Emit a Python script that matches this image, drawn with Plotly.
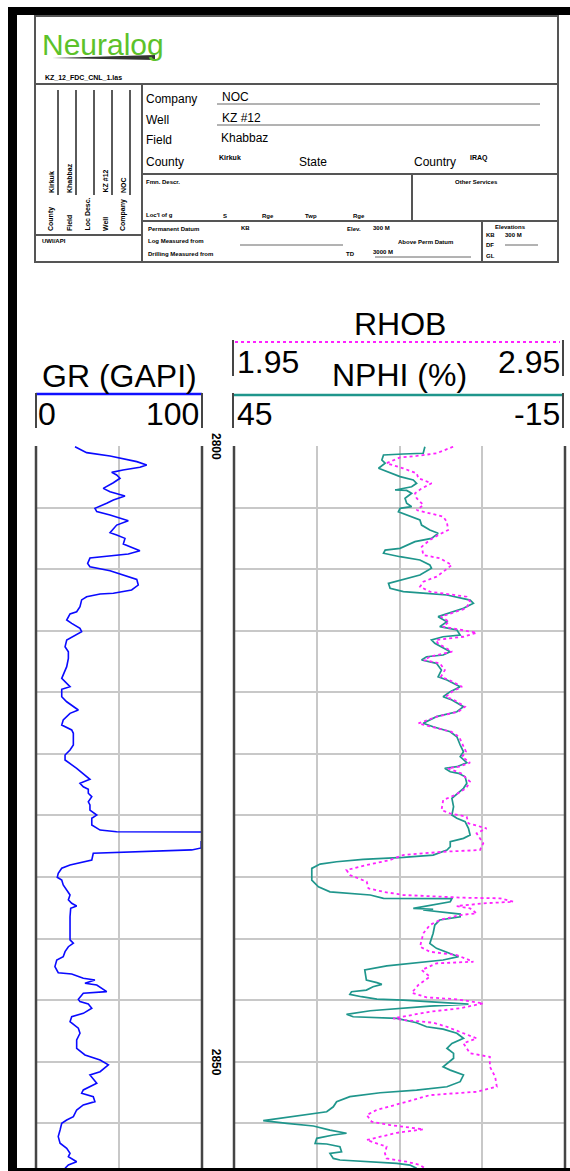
import plotly.graph_objects as go

W, H = 570, 1171

# ---------------- data ----------------
GR_DEPTH = [2800.06, 2800.54, 2800.81, 2800.97, 2801.27, 2801.54, 2801.73, 2801.95, 2802.14, 2802.35,
            2802.62, 2802.98, 2803.44, 2803.71, 2804.06, 2804.38, 2804.65, 2805.06, 2805.33, 2805.60,
            2806.07, 2806.42, 2807.04, 2807.23, 2807.50, 2807.96, 2808.18, 2808.50, 2808.77, 2808.93,
            2809.10, 2809.53, 2809.80, 2810.13, 2810.48, 2810.83, 2811.29, 2811.69, 2811.96, 2812.02,
            2812.24, 2812.50, 2813.05, 2813.46, 2813.64, 2814.13, 2814.40, 2814.81, 2815.08, 2815.49,
            2815.75, 2816.30, 2816.71, 2817.24, 2817.92, 2818.87, 2819.14, 2819.55, 2819.76, 2820.36,
            2820.77, 2821.44, 2821.71, 2822.25, 2822.66, 2823.06, 2823.33, 2824.28, 2824.69, 2825.09,
            2825.50, 2826.17, 2827.07, 2827.39, 2827.67, 2827.88, 2828.20, 2828.48, 2828.89, 2829.15,
            2829.56, 2829.97, 2830.23, 2830.78, 2831.19, 2831.32, 2831.37, 2832.05, 2832.13, 2832.64,
            2832.80, 2832.89, 2832.99, 2833.07, 2833.62, 2833.84, 2834.02, 2834.29, 2834.70, 2835.02,
            2835.24, 2835.65, 2836.05, 2836.46, 2836.86, 2837.13, 2837.35, 2837.54, 2838.22, 2840.11,
            2840.38, 2840.66, 2841.06, 2841.47, 2841.74, 2842.28, 2842.77, 2842.87, 2843.22, 2843.36,
            2843.63, 2843.77, 2844.31, 2844.44, 2844.93, 2845.12, 2845.31, 2845.66, 2846.07, 2846.34,
            2846.75, 2847.28, 2847.69, 2848.23, 2848.91, 2849.45, 2849.86, 2850.26, 2850.81, 2851.07,
            2851.75, 2852.29, 2852.56, 2852.84, 2853.24, 2853.51, 2853.92, 2854.46, 2854.73, 2855.00,
            2855.54, 2856.08, 2856.62, 2857.03, 2857.43, 2857.71, 2858.12, 2858.38, 2858.65]
GR_VALUE = [23.5, 30.5, 44.6, 50.6, 60.7, 66.7, 62.6, 52.4, 45.6, 48.6,
            50.6, 46.6, 40.5, 44.6, 53.6, 46.6, 42.6, 35.5, 36.6, 44.6,
            55.6, 48.6, 44.6, 48.6, 53.6, 52.6, 56.6, 62.6, 55.6, 42.6,
            32.5, 31.1, 32.5, 44.6, 52.6, 60.7, 61.6, 57.6, 46.6, 38.6,
            30.5, 27.5, 26.5, 24.5, 20.5, 18.5, 21.5, 26.5, 27.5, 22.5,
            18.5, 17.5, 19.5, 19.5, 18.5, 15.5, 17.5, 20.5, 15.5, 15.5,
            18.5, 25.5, 20.5, 16.4, 15.5, 21.5, 22.5, 22.5, 20.5, 17.5,
            17.5, 24.5, 32.5, 26.5, 28.5, 31.5, 31.5, 33.6, 31.5, 32.5,
            32.5, 36.6, 33.6, 33.6, 38.6, 48.6, 140.0, 140.0, 99.5, 99.5,
            93.8, 75.7, 46.6, 34.5, 33.6, 26.5, 20.5, 15.5, 13.4, 12.8,
            15.5, 16.4, 18.5, 20.5, 19.5, 21.5, 24.5, 20.9, 20.5, 20.5,
            22.5, 19.5, 17.5, 16.4, 12.5, 11.4, 13.4, 21.5, 28.5, 35.5,
            29.5, 36.6, 42.6, 28.5, 25.5, 26.5, 31.5, 33.6, 28.5, 21.5,
            20.5, 25.5, 26.5, 24.5, 24.5, 29.5, 38.6, 43.6, 38.6, 32.5,
            36.6, 28.5, 27.5, 34.5, 35.5, 28.5, 24.5, 22.5, 18.5, 15.5,
            14.5, 13.4, 14.5, 18.5, 20.5, 19.5, 24.5, 19.5, 17.5]

NPHI_DEPTH = [2800.06, 2800.59, 2800.65, 2800.73, 2801.14, 2801.40, 2801.81, 2802.09, 2802.49, 2802.76,
              2803.03, 2803.31, 2803.57, 2803.61, 2803.84, 2804.25, 2804.65, 2804.93, 2805.06, 2805.34,
              2805.60, 2806.01, 2806.42, 2806.82, 2807.09, 2807.50, 2807.77, 2808.31, 2808.45, 2808.71,
              2808.99, 2809.26, 2809.66, 2809.93, 2810.48, 2810.88, 2811.15, 2811.56, 2811.83, 2811.96,
              2812.10, 2812.51, 2812.77, 2813.18, 2813.59, 2813.86, 2814.27, 2814.67, 2814.94, 2815.35,
              2815.49, 2815.75, 2816.02, 2816.70, 2816.97, 2817.11, 2817.38, 2817.65, 2818.19, 2818.74,
              2819.00, 2819.55, 2819.95, 2820.36, 2820.63, 2821.17, 2821.58, 2821.98, 2822.52, 2822.80,
              2823.20, 2823.61, 2824.28, 2824.83, 2825.23, 2825.72, 2826.04, 2826.17, 2826.45, 2826.58,
              2826.86, 2827.39, 2827.80, 2828.61, 2829.29, 2829.97, 2830.23, 2830.51, 2831.05, 2831.59,
              2831.86, 2832.13, 2832.54, 2832.81, 2833.22, 2833.40, 2833.56, 2833.76, 2833.95, 2834.30,
              2835.25, 2835.79, 2836.20, 2836.33, 2836.46, 2836.73, 2836.75, 2837.01, 2837.28, 2837.54,
              2837.62, 2837.68, 2838.01, 2838.23, 2838.49, 2838.90, 2839.57, 2840.39, 2840.79, 2841.20,
              2841.47, 2841.74, 2842.01, 2842.21, 2842.55, 2843.37, 2843.58, 2843.72, 2843.91, 2844.18,
              2844.32, 2844.53, 2844.72, 2844.91, 2844.99, 2845.13, 2845.32, 2845.48, 2845.66, 2845.86,
              2846.15, 2846.35, 2846.48, 2846.83, 2847.16, 2847.35, 2847.69, 2848.10, 2848.51, 2848.91,
              2849.32, 2849.72, 2850.41, 2850.68, 2851.08, 2851.62, 2852.03, 2852.30, 2852.52, 2852.71,
              2852.84, 2853.25, 2853.66, 2854.06, 2854.25, 2854.47, 2854.79, 2855.00, 2855.22, 2855.55,
              2855.81, 2855.95, 2856.22, 2856.63, 2856.68, 2856.90, 2857.31, 2857.44, 2857.85, 2857.98,
              2858.12, 2858.25, 2858.39, 2858.66]
NPHI_VALUE = [10.4, 10.7, 14.3, 17.9, 18.2, 17.6, 18.8, 17.3, 14.9, 12.5,
              11.9, 12.8, 15.8, 13.7, 12.8, 14.0, 13.7, 12.8, 14.9, 15.2,
              13.7, 11.3, 11.0, 9.5, 8.0, 9.2, 12.2, 14.9, 17.6, 17.9,
              14.9, 11.3, 9.5, 9.2, 11.3, 14.9, 17.0, 16.7, 14.3, 10.1,
              6.4, 2.2, 1.6, 3.4, 6.2, 8.0, 6.4, 7.7, 4.6, 4.0,
              7.1, 9.2, 8.6, 5.8, 7.1, 10.1, 11.0, 8.3, 7.4, 8.0,
              6.4, 4.0, 5.8, 7.1, 5.5, 3.4, 4.6, 8.3, 10.7, 8.9,
              5.8, 4.6, 4.0, 3.4, 4.0, 2.8, 4.6, 6.8, 5.8, 4.3,
              3.1, 2.8, 3.4, 5.5, 5.2, 5.5, 4.6, 3.1, 2.5, 2.2,
              3.4, 5.8, 5.8, 6.4, 8.9, 14.3, 21.6, 26.4, 29.4, 30.9,
              30.9, 29.7, 27.6, 24.6, 20.3, 17.9, 5.5, 5.8, 9.5, 12.5,
              8.9, 10.7, 4.0, 4.0, 7.7, 8.6, 8.9, 9.5, 8.3, 5.8,
              4.3, 7.1, 12.8, 17.3, 21.3, 21.0, 19.1, 18.2, 19.8, 21.0,
              23.7, 24.0, 21.9, 19.1, 14.3, 9.5, 2.5, 9.5, 14.9, 20.3,
              24.6, 23.4, 15.5, 11.9, 10.1, 7.1, 4.6, 3.4, 5.5, 6.4,
              5.2, 5.2, 7.1, 5.8, 3.4, 4.0, 6.4, 11.9, 18.5, 21.6,
              24.0, 26.4, 27.0, 28.2, 31.2, 35.4, 39.7, 35.4, 30.6, 27.6,
              24.6, 27.0, 30.0, 30.3, 28.2, 25.8, 25.5, 27.6, 27.0, 25.8,
              20.3, 15.5, 13.1, 11.9]

RHOB_DEPTH = [2800.06, 2800.59, 2800.81, 2800.92, 2801.40, 2801.81, 2802.22, 2802.62, 2803.03, 2803.44,
              2803.84, 2804.25, 2804.79, 2805.20, 2805.47, 2805.74, 2806.15, 2806.82, 2807.23, 2807.63,
              2808.18, 2808.85, 2809.12, 2809.66, 2810.21, 2810.61, 2811.02, 2811.43, 2811.83, 2812.02,
              2812.24, 2812.64, 2813.18, 2813.59, 2813.86, 2814.27, 2814.67, 2815.16, 2815.49, 2815.75,
              2816.02, 2816.70, 2817.11, 2817.38, 2817.65, 2818.19, 2818.74, 2819.00, 2819.55, 2819.95,
              2820.36, 2820.63, 2821.17, 2821.58, 2821.98, 2822.52, 2822.80, 2823.20, 2823.61, 2824.28,
              2824.83, 2825.23, 2825.72, 2826.04, 2826.17, 2826.58, 2827.26, 2827.80, 2828.34, 2828.75,
              2829.56, 2829.83, 2830.10, 2830.64, 2831.05, 2831.45, 2832.26, 2832.81, 2832.95, 2833.22,
              2833.62, 2834.03, 2834.43, 2834.84, 2835.38, 2835.92, 2836.20, 2836.46, 2836.68, 2836.73,
              2837.01, 2837.14, 2837.36, 2837.54, 2837.95, 2838.09, 2838.49, 2838.90, 2839.57, 2840.66,
              2841.07, 2841.34, 2841.88, 2842.01, 2842.55, 2843.10, 2843.77, 2844.40, 2844.77, 2844.93,
              2845.26, 2845.66, 2845.94, 2846.48, 2846.61, 2846.83, 2847.16, 2847.69, 2848.10, 2848.51,
              2849.32, 2849.60, 2850.41, 2851.22, 2852.03, 2852.44, 2852.71, 2853.25, 2853.92, 2854.33,
              2854.87, 2855.14, 2855.49, 2855.77, 2856.36, 2856.63, 2856.90, 2857.44, 2857.85, 2858.12,
              2858.39, 2858.66]
RHOB_VALUE = [2.612, 2.562, 2.502, 2.452, 2.411, 2.461, 2.502, 2.507, 2.547, 2.517,
              2.497, 2.502, 2.522, 2.502, 2.542, 2.582, 2.593, 2.597, 2.567, 2.542,
              2.517, 2.522, 2.572, 2.608, 2.582, 2.562, 2.522, 2.512, 2.542, 2.593,
              2.653, 2.663, 2.651, 2.606, 2.575, 2.600, 2.581, 2.683, 2.643, 2.560,
              2.566, 2.609, 2.542, 2.524, 2.572, 2.587, 2.575, 2.600, 2.639, 2.609,
              2.590, 2.615, 2.648, 2.627, 2.563, 2.507, 2.551, 2.606, 2.630, 2.642,
              2.651, 2.639, 2.663, 2.630, 2.596, 2.636, 2.663, 2.651, 2.618, 2.582,
              2.577, 2.602, 2.653, 2.658, 2.713, 2.683, 2.703, 2.693, 2.582, 2.461,
              2.421, 2.351, 2.290, 2.300, 2.351, 2.356, 2.401, 2.461, 2.643, 2.754,
              2.794, 2.703, 2.623, 2.663, 2.683, 2.633, 2.572, 2.542, 2.522, 2.512,
              2.542, 2.623, 2.673, 2.562, 2.517, 2.542, 2.507, 2.487, 2.532, 2.623,
              2.703, 2.633, 2.542, 2.431, 2.461, 2.552, 2.593, 2.643, 2.683, 2.643,
              2.663, 2.723, 2.723, 2.739, 2.744, 2.683, 2.542, 2.472, 2.381, 2.351,
              2.366, 2.421, 2.522, 2.442, 2.351, 2.381, 2.411, 2.406, 2.411, 2.472,
              2.512, 2.527]

GR_RANGE = [0, 100]
NPHI_RANGE = [45, -15]
RHOB_RANGE = [1.95, 2.95]
DEPTH_TOP, DEPTH_BOTTOM = 2800, 2858.63
DEPTH_LABELS = [2800, 2850]
GR_GRID = [50]
NPHI_GRID = [30, 15, 0]

# ---------------- helpers (layout positions in pixels) ----------------
def X(p):
    return p / W


def Y(p):
    return 1 - p / H


FONT = "Liberation Sans, Arial, sans-serif"
TEAL = "#1f968c"
MAGENTA = "#ff22ff"
BORDER = "#454545"
GRID = "#c8c8c8"

fig = go.Figure()
fig.add_trace(go.Scatter(x=GR_VALUE, y=GR_DEPTH, xaxis="x", yaxis="y", mode="lines",
                         line=dict(color="#0a0aff", width=1.6), hoverinfo="skip"))
fig.add_trace(go.Scatter(x=NPHI_VALUE, y=NPHI_DEPTH, xaxis="x2", yaxis="y2", mode="lines",
                         line=dict(color=TEAL, width=1.7), hoverinfo="skip"))
fig.add_trace(go.Scatter(x=RHOB_VALUE, y=RHOB_DEPTH, xaxis="x3", yaxis="y2", mode="lines",
                         line=dict(color=MAGENTA, width=1.8, dash="dot"), hoverinfo="skip"))

ydom = [Y(1168), Y(446)]
common_y = dict(domain=ydom, range=[DEPTH_BOTTOM, DEPTH_TOP], tick0=2800, dtick=5,
                showticklabels=False, ticks="", showgrid=True, gridcolor=GRID, gridwidth=2,
                zeroline=False, showline=False)
common_x = dict(showticklabels=False, ticks="", showgrid=True, gridcolor=GRID, gridwidth=2,
                zeroline=False, showline=False, tickmode="array")

shapes = []


def line(x0, y0, x1, y1, color=BORDER, width=2, dash="solid", layer="above"):
    shapes.append(dict(type="line", xref="paper", yref="paper", x0=X(x0), y0=Y(y0),
                       x1=X(x1), y1=Y(y1), line=dict(color=color, width=width, dash=dash),
                       layer=layer))


def rect(x0, y0, x1, y1, fill, layer="above"):
    shapes.append(dict(type="rect", xref="paper", yref="paper", x0=X(x0), y0=Y(y0),
                       x1=X(x1), y1=Y(y1), fillcolor=fill, line=dict(width=0), layer=layer))


annotations = []


def txt(text, x, y, size, xanchor="left", yanchor="middle", bold=False, angle=0,
        color="black", family=FONT):
    annotations.append(dict(text=text, x=X(x), y=Y(y), xref="paper", yref="paper",
                            xanchor=xanchor, yanchor=yanchor, showarrow=False,
                            textangle=angle, borderpad=0,
                            font=dict(family=family, size=size, color=color,
                                      weight="bold" if bold else "normal")))


# black frame bars
rect(8, 7, 570, 15, "black")
rect(8, 7, 17, 1171, "black")
rect(8, 1168, 570, 1171, "black")

# header box
HB = "#555555"
shapes.append(dict(type="rect", xref="paper", yref="paper", x0=X(35), y0=Y(16), x1=X(558),
                   y1=Y(262), line=dict(color=HB, width=2), fillcolor="rgba(0,0,0,0)"))
line(35, 84, 558, 84, HB, 2)
line(142, 84, 142, 262, HB, 2)
line(35, 235, 142, 235, HB, 2)
line(142, 174, 558, 174, HB, 2)
line(142, 221, 558, 221, HB, 2)
line(412, 174, 412, 221, HB, 2)
line(482, 221, 482, 262, HB, 2)
for bx in [58, 76, 94, 112, 130]:
    line(bx, 90, bx, 195, "#5a5a5a", 2)
line(217, 104, 540, 104, "#666", 1)
line(217, 125, 540, 125, "#666", 1)
line(240, 245, 343, 245, "#666", 1)
line(375, 257, 471, 257, "#666", 1)
line(505, 245, 538, 245, "#666", 1)

# logo
txt("Neuralog", 41, 44, 30, color="#5cc22a")
shapes.append(dict(type="path", xref="paper", yref="paper",
                   path=f"M {X(52)} {Y(58)} L {X(155)} {Y(55)} L {X(155)} {Y(60)} Z",
                   fillcolor="#333333", line=dict(width=0)))
txt("KZ_12_FDC_CNL_1.las", 44, 78, 7, bold=True)

# rotated left panel
for bx, val, lab in [(58, "Kirkuk", "County"), (76, "Khabbaz", "Field"), (94, "", "Loc Desc."),
                     (112, "KZ #12", "Well"), (130, "NOC", "Company")]:
    if val:
        txt(val, bx - 7, 194, 7, xanchor="center", yanchor="bottom", bold=True, angle=-90)
    txt(lab, bx - 7, 232, 7, xanchor="center", yanchor="bottom", bold=True, angle=-90)
txt("UWI/API", 41, 241, 6, bold=True)

# field labels
txt("Company", 145, 99, 12)
txt("NOC", 221, 97, 12)
txt("Well", 145, 120, 12)
txt("KZ #12", 221, 118, 12)
txt("Field", 145, 140, 12)
txt("Khabbaz", 220, 138, 12)
txt("County", 145, 162, 12)
txt("Kirkuk", 218, 157, 7, bold=True)
txt("State", 298, 162, 12)
txt("Country", 413, 162, 12)
txt("IRAQ", 469, 158, 7, bold=True)
txt("Fmn. Descr.", 145, 182, 6, bold=True)
txt("Other Services", 454, 182, 6, bold=True)
txt("Loc'l of g", 145, 215, 6, bold=True)
txt("S", 222, 216, 6, bold=True)
txt("Rge", 261, 216, 6, bold=True)
txt("Twp", 304, 216, 6, bold=True)
txt("Rge", 352, 216, 6, bold=True)
txt("Permanent Datum", 147, 229, 6, bold=True)
txt("KB", 240, 228, 6, bold=True)
txt("Log Measured from", 147, 241, 6, bold=True)
txt("Drilling Measured from", 147, 254, 6, bold=True)
txt("Elev.", 346, 229, 6, bold=True)
txt("300 M", 372, 228, 6, bold=True)
txt("Above Perm Datum", 397, 242, 6, bold=True)
txt("TD", 345, 254, 6, bold=True)
txt("3000 M", 372, 252, 6, bold=True)
txt("Elevations", 494, 227, 6, bold=True)
txt("KB", 485, 235, 6, bold=True)
txt("300 M", 504, 235, 6, bold=True)
txt("DF", 485, 245, 6, bold=True)
txt("GL", 485, 256, 6, bold=True)

# track headers
HS = 32
txt("RHOB", 399.5, 324, HS, xanchor="center")
line(235, 342, 560, 342, MAGENTA, 2, dash="dot")
line(233, 340, 233, 376, BORDER, 2)
line(563, 340, 563, 376, BORDER, 2)
txt("1.95", 236, 362, HS)
txt("2.95", 561, 362, HS, xanchor="right")
txt("NPHI (%)", 399, 375, HS, xanchor="center")
txt("GR (GAPI)", 119, 376, HS, xanchor="center")

line(36, 394, 202, 394, "#1010ff", 2.5)
line(36, 393, 36, 428, BORDER, 2)
line(202, 393, 202, 428, BORDER, 2)
txt("0", 37, 414, HS)
txt("100", 200, 414, HS, xanchor="right")

line(234, 395, 563, 395, TEAL, 2.5)
line(233, 393, 233, 428, BORDER, 2)
line(563, 393, 563, 428, BORDER, 2)
txt("45", 236, 414, HS)
txt("-15", 561, 414, HS, xanchor="right")

# track borders
for bx in [36, 202, 234, 565]:
    line(bx, 446, bx, 1168, BORDER, 2.5)

# depth labels
for d in DEPTH_LABELS:
    py = 446 + (d - DEPTH_TOP) / (DEPTH_BOTTOM - DEPTH_TOP) * (1168 - 446)
    txt(str(d), 216, py, 12, xanchor="center", bold=True, angle=90)

fig.update_layout(
    width=W, height=H, margin=dict(l=0, r=0, t=0, b=0),
    paper_bgcolor="white", plot_bgcolor="white", showlegend=False,
    xaxis=dict(domain=[X(36), X(202)], range=GR_RANGE, tickvals=GR_GRID, anchor="y", **common_x),
    yaxis=dict(anchor="x", **common_y),
    xaxis2=dict(domain=[X(234), X(565)], range=NPHI_RANGE, tickvals=NPHI_GRID, anchor="y2", **common_x),
    yaxis2=dict(anchor="x2", **common_y),
    xaxis3=dict(domain=[X(234), X(565)], range=RHOB_RANGE, overlaying="x2", anchor="y2",
                visible=False, showgrid=False),
    shapes=shapes, annotations=annotations,
)

fig.write_html("out.html")
